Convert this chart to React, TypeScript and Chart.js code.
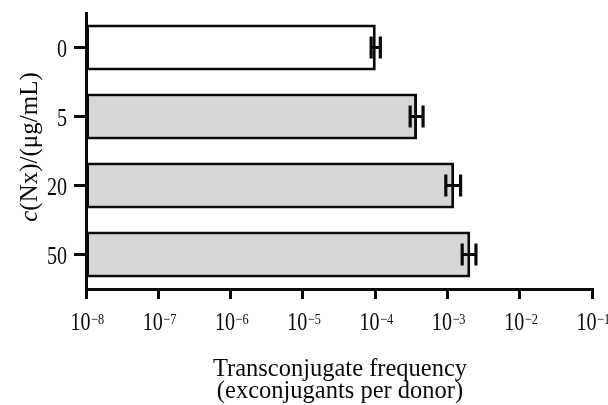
import React, { useEffect, useRef } from 'react';
import { Chart, registerables } from 'chart.js';

Chart.register(...registerables);

// ---- data ----
const categories = ['0', '5', '20', '50'];
const frequency = [1.02e-4, 3.8e-4, 1.24e-3, 2.07e-3];
const errorLow = [0.88e-4, 3.05e-4, 0.95e-3, 1.6e-3];
const errorHigh = [1.18e-4, 4.6e-4, 1.52e-3, 2.48e-3];
const barColors = ['#ffffff', '#d7d7d7', '#d7d7d7', '#d7d7d7'];
const xTickExponents = [-8, -7, -6, -5, -4, -3, -2, -1];
const xTitleLines = ['Transconjugate frequency', '(exconjugants per donor)'];
const yTitleItalic = 'c';
const yTitleRest = '(Nx)/(μg/mL)';

const FONT = '"Liberation Serif", "Times New Roman", serif';
const INK = '#0a0a0a';
const TICK_SX = 0.82;

function drawScaled(ctx: CanvasRenderingContext2D, text: string, x: number, y: number, sx: number) {
  ctx.save();
  ctx.translate(x, y);
  ctx.scale(sx, 1);
  ctx.fillText(text, 0, 0);
  ctx.restore();
}

const errorBarPlugin = {
  id: 'errorBars',
  afterDatasetsDraw(chart: any) {
    const ctx: CanvasRenderingContext2D = chart.ctx;
    const xs = chart.scales.x;
    const ys = chart.scales.y;
    ctx.save();
    ctx.strokeStyle = INK;
    ctx.lineWidth = 3.2;
    const half = 11;
    frequency.forEach((_, i) => {
      const yc = ys.getPixelForValue(i);
      const x1 = xs.getPixelForValue(errorLow[i]);
      const x2 = xs.getPixelForValue(errorHigh[i]);
      ctx.beginPath();
      ctx.moveTo(x1, yc);
      ctx.lineTo(x2, yc);
      ctx.moveTo(x1, yc - half);
      ctx.lineTo(x1, yc + half);
      ctx.moveTo(x2, yc - half);
      ctx.lineTo(x2, yc + half);
      ctx.stroke();
    });
    ctx.restore();
  },
};

const labelPlugin = {
  id: 'customLabels',
  afterDraw(chart: any) {
    const ctx: CanvasRenderingContext2D = chart.ctx;
    const xs = chart.scales.x;
    const ys = chart.scales.y;
    const area = chart.chartArea;
    ctx.save();
    ctx.fillStyle = INK;
    ctx.textBaseline = 'alphabetic';
    ctx.textAlign = 'left';

    // y tick labels
    ctx.font = `24.5px ${FONT}`;
    categories.forEach((c, i) => {
      const yc = ys.getPixelForValue(i);
      const w = ctx.measureText(c).width * TICK_SX;
      drawScaled(ctx, c, area.left - 19 - w, yc + 9, TICK_SX);
    });

    // x tick labels 10^n
    xTickExponents.forEach((e) => {
      const px = xs.getPixelForValue(Math.pow(10, e));
      ctx.font = `24.5px ${FONT}`;
      const wBase = ctx.measureText('10').width * TICK_SX;
      ctx.font = `15px ${FONT}`;
      const expText = '\u2212' + String(-e);
      const wExp = ctx.measureText(expText).width * TICK_SX;
      const start = px - (wBase + wExp) / 2 + 1;
      ctx.font = `24.5px ${FONT}`;
      drawScaled(ctx, '10', start, 329.5, TICK_SX);
      ctx.font = `15px ${FONT}`;
      drawScaled(ctx, expText, start + wBase + 0.5, 323.5, TICK_SX);
    });

    // x axis title
    ctx.font = `24.5px ${FONT}`;
    ctx.textAlign = 'center';
    const cx = (area.left + area.right) / 2 + 1;
    ctx.fillText(xTitleLines[0], cx, 375.5);
    ctx.fillText(xTitleLines[1], cx, 397.5);

    // y axis title (rotated, italic c)
    ctx.textAlign = 'left';
    ctx.font = `italic 25px ${FONT}`;
    const wi = ctx.measureText(yTitleItalic).width;
    ctx.font = `25px ${FONT}`;
    const wr = ctx.measureText(yTitleRest).width;
    const total = wi + wr;
    ctx.translate(36.5, 147);
    ctx.rotate(-Math.PI / 2);
    ctx.font = `italic 25px ${FONT}`;
    ctx.fillText(yTitleItalic, -total / 2, 0);
    ctx.font = `25px ${FONT}`;
    ctx.fillText(yTitleRest, -total / 2 + wi, 0);
    ctx.restore();
  },
};

export default function App() {
  const canvasRef = useRef<HTMLCanvasElement | null>(null);

  useEffect(() => {
    const canvas = canvasRef.current;
    if (!canvas) return;
    const chart = new Chart(canvas, {
      type: 'bar',
      data: {
        labels: categories,
        datasets: [
          {
            data: frequency,
            backgroundColor: barColors,
            borderColor: INK,
            borderWidth: 3,
            borderSkipped: false,
            barPercentage: 0.67,
            categoryPercentage: 1,
          },
        ],
      },
      options: {
        indexAxis: 'y',
        animation: false,
        responsive: true,
        maintainAspectRatio: false,
        layout: { padding: { top: 13, right: 16, left: 0, bottom: 0 } },
        plugins: {
          legend: { display: false },
          tooltip: { enabled: false },
        },
        scales: {
          x: {
            type: 'logarithmic',
            position: 'bottom',
            min: 1e-8,
            max: 1e-1,
            afterBuildTicks: (scale: any) => {
              scale.ticks = xTickExponents.map((e) => ({ value: Math.pow(10, e) }));
            },
            afterFit: (scale: any) => {
              scale.height = 116;
            },
            ticks: { display: false },
            grid: {
              display: true,
              drawOnChartArea: false,
              drawTicks: true,
              tickLength: 10,
              lineWidth: 3,
              color: INK,
            },
            border: { display: true, width: 3, color: INK },
          },
          y: {
            type: 'category',
            offset: true,
            afterFit: (scale: any) => {
              scale.width = 86;
            },
            ticks: { display: false },
            grid: {
              display: true,
              offset: false,
              drawOnChartArea: false,
              drawTicks: true,
              tickLength: 12,
              lineWidth: 3,
              color: INK,
            },
            border: { display: true, width: 3, color: INK },
          },
        },
      } as any,
      plugins: [errorBarPlugin, labelPlugin],
    });
    return () => chart.destroy();
  }, []);

  return (
    <div style={{ position: 'fixed', left: 0, top: 0, width: 608, height: 405, background: '#ffffff' }}>
      <canvas ref={canvasRef} />
    </div>
  );
}
